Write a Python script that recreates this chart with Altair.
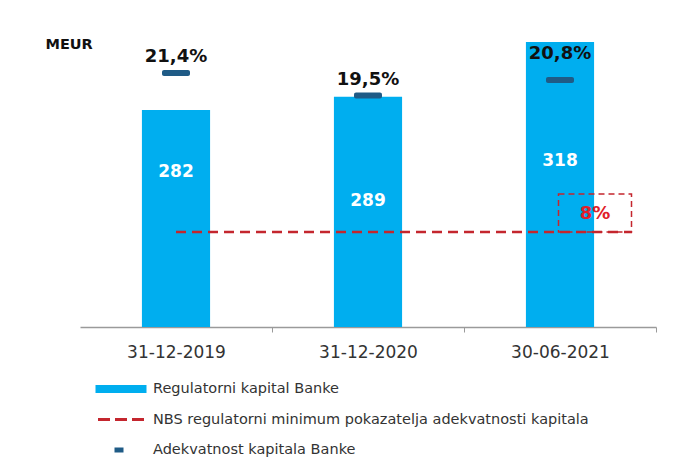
import altair as alt
import pandas as pd

categories = ["31-12-2019", "31-12-2020", "30-06-2021"]
capital = [282, 289, 318]
capital_label_pos = [249, 234, 255]
adequacy = [21.4, 19.5, 20.8]
adequacy_labels = ["21,4%", "19,5%", "20,8%"]
adequacy_label_pos = [22.7, 20.8, 23.0]
nbs_minimum = 8
nbs_label = "8%"
series_names = [
    "Regulatorni kapital Banke",
    "NBS regulatorni minimum pokazatelja adekvatnosti kapitala",
    "Adekvatnost kapitala Banke",
]

BLUE = "#00AEEF"
DARK = "#1F5B86"
RED = "#C4262E"
FONT = "DejaVu Sans"

df = pd.DataFrame({
    "cat": categories,
    "capital": capital,
    "capital_pos": capital_label_pos,
    "capital_txt": [str(v) for v in capital],
    "car": adequacy,
    "car_txt": adequacy_labels,
    "car_pos": adequacy_label_pos,
})
line_df = pd.DataFrame({"x1": [categories[0]], "x2": [categories[-1]], "y": [nbs_minimum], "t": [nbs_label]})
box_df = pd.DataFrame({"x": [categories[-1]], "y": [nbs_minimum], "t": [nbs_label]})
legend_df = pd.DataFrame({"series": series_names, "y": [-50] * 3})

x_scale = alt.Scale(domain=categories, paddingInner=0.645, paddingOuter=0.3225)


def xq(field):
    return alt.X(field, type="nominal", scale=x_scale)


x_enc = alt.X(
    "cat:N",
    scale=x_scale,
    axis=alt.Axis(
        title=None, labelAngle=0, labelFont=FONT, labelFontSize=17, labelColor="#333",
        domainColor="#9a9a9a", domainWidth=1.5, tickColor="#9a9a9a", tickSize=5,
        tickOffset=96, labelOffset=-96, labelPadding=12,
    ),
)
y_money = alt.Scale(domain=[167, 318], zero=False, nice=False)
y_pct = alt.Scale(domain=[0, 24], zero=False, nice=False)

bars = alt.Chart(df).mark_bar(color=BLUE, clip=True).encode(
    x=x_enc,
    y=alt.Y(
        "capital:Q", scale=y_money,
        axis=alt.Axis(
            title="MEUR", labels=False, ticks=False, domain=False, grid=False,
            titleAngle=0, titleX=-35, titleY=2, titleAlign="left", titleBaseline="middle",
            titleFont=FONT, titleFontWeight="bold", titleFontSize=14.5, titleColor="#111",
        ),
    ),
)
bar_text = alt.Chart(df).mark_text(
    color="white", font=FONT, fontWeight="bold", fontSize=17, baseline="middle"
).encode(
    x=xq("cat"),
    y=alt.Y("capital_pos:Q", scale=y_money),
    text="capital_txt:N",
)
money_layer = alt.layer(bars, bar_text)

nbs_line = alt.Chart(line_df).mark_rule(
    color=RED, strokeWidth=2.5, strokeDash=[10, 6], x2Offset=72
).encode(
    x=xq("x1"),
    x2="x2:N",
    y=alt.Y("y:Q", scale=y_pct, axis=None),
)
nbs_box = alt.Chart(box_df).mark_bar(
    filled=False, stroke=RED, strokeWidth=1.5, strokeDash=[6, 4], width=73, xOffset=35, y2Offset=-38
).encode(
    x=xq("x"),
    y=alt.Y("y:Q", scale=y_pct, axis=None),
    y2="y:Q",
)
nbs_text = alt.Chart(box_df).mark_text(
    color="#E0202A", font=FONT, fontWeight="bold", fontSize=18, dx=35, dy=-18, baseline="middle"
).encode(
    x=xq("x"),
    y=alt.Y("y:Q", scale=y_pct, axis=None),
    text="t:N",
)
markers = alt.Chart(df).mark_tick(color=DARK, thickness=6, size=28, cornerRadius=2, opacity=1).encode(
    x=xq("cat"),
    y=alt.Y("car:Q", scale=y_pct, axis=None),
)
car_text = alt.Chart(df).mark_text(
    color="#111", font=FONT, fontWeight="bold", fontSize=18, baseline="middle"
).encode(
    x=xq("cat"),
    y=alt.Y("car_pos:Q", scale=y_pct, axis=None),
    text="car_txt:N",
)

shapes = [
    "M-2.55,-0.4H2.55V0.4H-2.55Z",
    "M-2.3,-0.15H-1.1V0.15H-2.3Z M-0.6,-0.15H0.6V0.15H-0.6Z M1.1,-0.15H2.3V0.15H1.1Z",
    "M-0.65,-0.25H0.25V0.25H-0.65Z",
]
legend_layer = alt.Chart(legend_df).mark_point(filled=True, clip=True, opacity=1).encode(
    y=alt.Y("y:Q", scale=y_pct, axis=None),
    color=alt.Color(
        "series:N",
        scale=alt.Scale(domain=series_names, range=[BLUE, RED, DARK]),
        legend=alt.Legend(
            title=None, orient="none", legendX=31, legendY=337, symbolSize=400,
            labelOffset=22, rowPadding=13.5, labelFont=FONT, labelFontSize=14.5,
            labelColor="#333", symbolStrokeWidth=0, symbolOpacity=1, labelLimit=600,
            padding=0,
        ),
    ),
    shape=alt.Shape("series:N", scale=alt.Scale(domain=series_names, range=shapes)),
)
pct_layer = alt.layer(nbs_line, nbs_box, nbs_text, markers, car_text, legend_layer)

chart = alt.layer(money_layer, pct_layer).resolve_scale(
    y="independent"
).properties(
    width=576,
    height=285,
    autosize=alt.AutoSizeParams(type="none"),
    padding={"left": 80, "top": 42, "right": 22, "bottom": 136},
    background="white",
).configure_view(stroke=None)

chart.save("out.html", embed_options={"renderer": "svg", "actions": False})
